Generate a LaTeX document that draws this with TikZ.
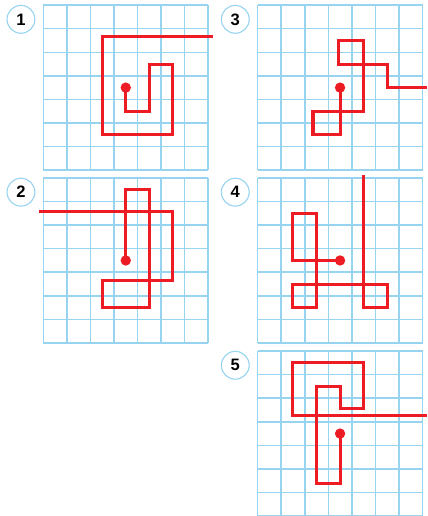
\documentclass[tikz,border=0pt]{standalone}
\usepackage{fontspec}
\setmainfont{Liberation Sans}

\definecolor{xanhluoi}{RGB}{150,212,240}
\definecolor{doduong}{RGB}{237,28,36}

\tikzset{
	oluoi/.style={draw=xanhluoi, line width=1.1pt},
	duongdi/.style={draw=doduong, line width=2.2pt, line join=miter},
	diemdau/.style={fill=doduong},
	sobai/.style={circle, draw=xanhluoi, line width=0.8pt, minimum size=0.71cm, inner sep=0pt, font=\bfseries\large}
}

\begin{document}
\begin{tikzpicture}[x=0.6cm, y=0.6cm]
	
	\useasboundingbox (0,0) rectangle (18.17,-21.91);
	
	% Vẽ 5 lưới ô vuông 7x7 và số thứ tự
	\foreach \gx/\gy/\so in {1.84/-7.22/1, 10.94/-7.22/3, 1.84/-14.56/2, 10.94/-14.56/4, 10.94/-21.91/5} {
		\begin{scope}[shift={(\gx,\gy)}]
			\draw[oluoi, step=1] (0,0) grid (7,7);
			\node[sobai] (so\so) at (-0.95,6.4) {\so};
		\end{scope}
	}
	
	% Hình 1
	\begin{scope}[shift={(1.84,-7.22)}]
		\draw[duongdi] (3.5,3.5) -- (3.5,2.5) -- (4.5,2.5) -- (4.5,4.5) -- (5.5,4.5) -- (5.5,1.5)
		-- (2.5,1.5) -- (2.5,5.65) -- (7.2,5.65);
		\fill[diemdau] (3.5,3.5) circle (0.22);
	\end{scope}
	
	% Hình 3
	\begin{scope}[shift={(10.94,-7.22)}]
		\draw[duongdi] (3.5,3.5) -- (3.5,1.5) -- (2.35,1.5) -- (2.35,2.5) -- (4.5,2.5) -- (4.5,5.5)
		-- (3.45,5.5) -- (3.45,4.5) -- (5.5,4.5) -- (5.5,3.5) -- (7.2,3.5);
		\fill[diemdau] (3.5,3.5) circle (0.22);
	\end{scope}
	
	% Hình 2
	\begin{scope}[shift={(1.84,-14.56)}]
		\draw[duongdi] (3.5,3.5) -- (3.5,6.5) -- (4.5,6.5) -- (4.5,1.5) -- (2.5,1.5) -- (2.5,2.65)
		-- (5.5,2.65) -- (5.5,5.58) -- (-0.17,5.58);
		\fill[diemdau] (3.5,3.5) circle (0.22);
	\end{scope}
	
	% Hình 4
	\begin{scope}[shift={(10.94,-14.56)}]
		\draw[duongdi] (3.5,3.5) -- (1.5,3.5) -- (1.5,5.5) -- (2.5,5.5) -- (2.5,1.5) -- (1.5,1.5)
		-- (1.5,2.5) -- (5.5,2.5) -- (5.5,1.5) -- (4.5,1.5) -- (4.5,7.15);
		\fill[diemdau] (3.5,3.5) circle (0.22);
	\end{scope}
	
	% Hình 5
	\begin{scope}[shift={(10.94,-21.91)}]
		\draw[duongdi] (3.5,3.5) -- (3.5,1.4) -- (2.5,1.4) -- (2.5,5.5) -- (3.5,5.5) -- (3.5,4.55)
		-- (4.5,4.55) -- (4.5,6.5) -- (1.5,6.5) -- (1.5,4.25) -- (7.2,4.25);
		\fill[diemdau] (3.5,3.5) circle (0.22);
	\end{scope}
	
\end{tikzpicture}
\end{document}
